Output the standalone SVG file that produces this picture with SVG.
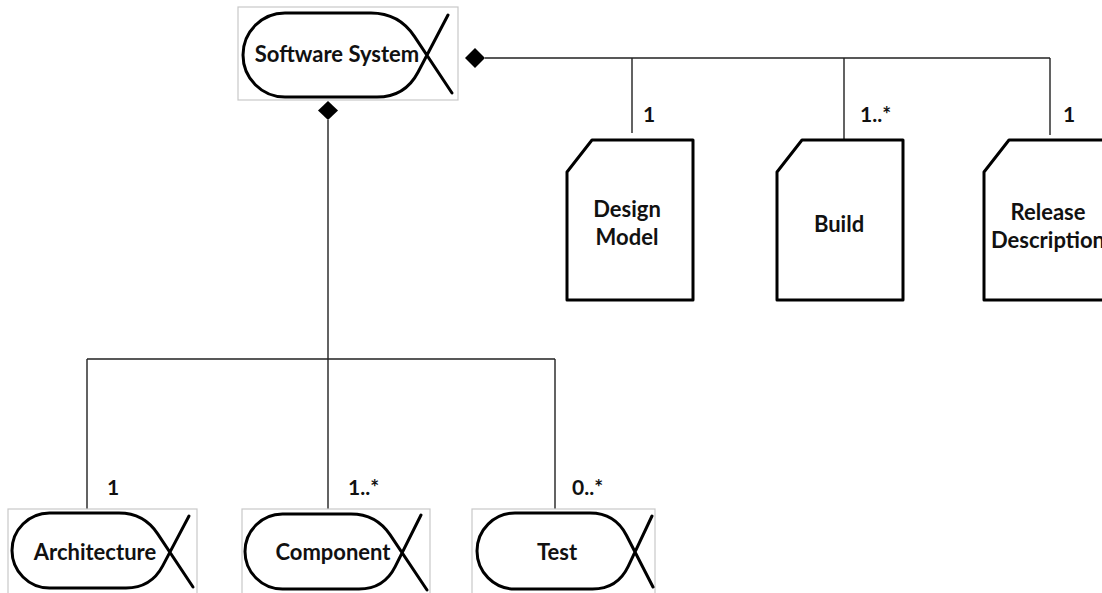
<svg xmlns="http://www.w3.org/2000/svg" width="1102" height="593" viewBox="0 0 1102 593">
<style>
.frame{fill:none;stroke:#c8c8c8;stroke-width:1.2}
.shape{fill:none;stroke:#000;stroke-width:3;stroke-linejoin:round;stroke-linecap:round}
.conn{fill:none;stroke:#222;stroke-width:1.4}
.dia{fill:#000}
.t{font-family:Lato,"Liberation Sans",sans-serif;font-weight:bold;font-size:22px;fill:#111;text-anchor:middle}
.lbl{font-family:Lato,"Liberation Sans",sans-serif;font-weight:bold;font-size:21px;fill:#111}
</style>
<rect width="1102" height="593" fill="#fff"/>
<g id="connectors">
<path class="conn" d="M485,58 H1050 M632,58 V133 M844,58 V140 M1050,58 V135"/>
<polygon class="dia" points="465,58 475,48 485,58 475,68"/>
<path class="conn" d="M328,120 V359 M87,359 H555 M87,359 V509 M328,359 V509 M555,359 V509"/>
<polygon class="dia" points="318,110.5 328,101 338,110.5 328,120"/>
<text class="lbl" x="643" y="122">1</text>
<text class="lbl" x="860" y="122">1..*</text>
<text class="lbl" x="1063" y="122">1</text>
<text class="lbl" x="107" y="495">1</text>
<text class="lbl" x="348" y="495">1..*</text>
<text class="lbl" x="572" y="495">0..*</text>
</g>
<g id="software-system">
<rect class="frame" x="238" y="7" width="220" height="93"/>
<path class="shape" d="M452,93 L414.4,36.4 Q399,13 371,13 L285,13 A42,42 0 0 0 285,97 L377,97 Q405,97 418,72.2 L448,15"/>
<text class="t" x="337" y="62">Software System</text>
</g>
<g id="architecture">
<rect class="frame" x="8" y="509" width="189" height="90"/>
<path class="shape" d="M193,587 L157.7,533.9 Q144,513 119,513 L49.5,513 A37.5,37.5 0 0 0 49.5,588 L126,588 Q151,588 162.7,565.9 L189,516"/>
<text class="t" x="95" y="560">Architecture</text>
</g>
<g id="component">
<rect class="frame" x="242" y="509" width="188" height="90"/>
<path class="shape" d="M427,590 L390,534.7 Q376,514 351,514 L282.5,514 A37.5,37.5 0 0 0 282.5,589 L359,589 Q384,589 395.2,566.6 L421,515"/>
<text class="t" x="333" y="560">Component</text>
</g>
<g id="test">
<rect class="frame" x="472" y="509" width="183" height="90"/>
<path class="shape" d="M653,587 L626.4,535.2 Q615,513 590,513 L515,513 A38,38 0 0 0 515,589 L592.5,589 Q617.5,589 628.2,566.4 L652,516"/>
<text class="t" x="557" y="560">Test</text>
</g>
<g id="design-model">
<path class="shape" d="M592,140 H693 V300 H567 V172 Z"/>
<text class="t" x="627" y="217">Design</text>
<text class="t" x="627" y="245">Model</text>
</g>
<g id="build">
<path class="shape" d="M802,140 H903 V300 H777 V172 Z"/>
<text class="t" x="839" y="232">Build</text>
</g>
<g id="release-description">
<path class="shape" d="M1009,140 H1112 V300 H984 V172 Z"/>
<text class="t" x="1048" y="220">Release</text>
<text class="t" x="1048" y="248">Description</text>
</g>
</svg>
